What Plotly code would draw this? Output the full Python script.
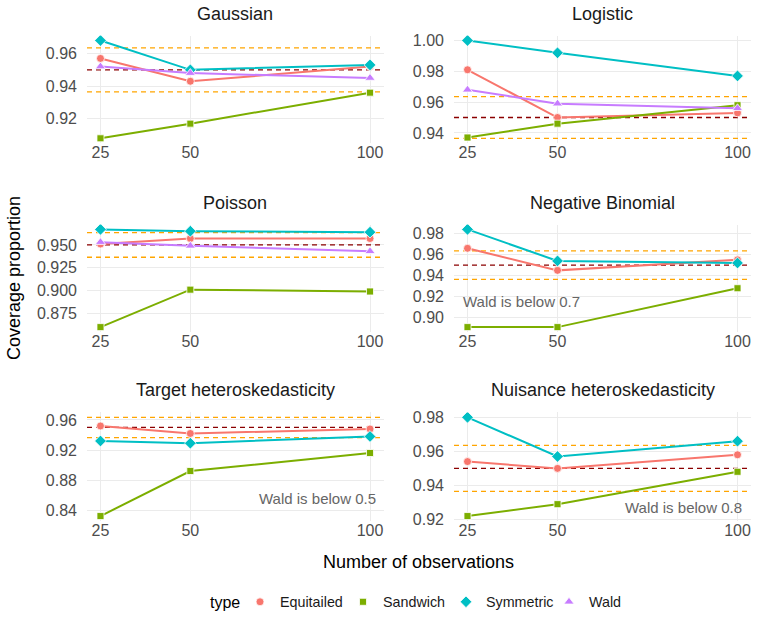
import plotly.graph_objects as go

# ---------------- data ----------------
n_obs = [25, 50, 100]
panels = ["Gaussian", "Logistic", "Poisson", "Negative Binomial",
          "Target heteroskedasticity", "Nuisance heteroskedasticity"]

equitailed = {
    "Gaussian": [0.957, 0.943, 0.952],
    "Logistic": [0.981, 0.950, 0.953],
    "Poisson": [0.951, 0.957, 0.957],
    "Negative Binomial": [0.966, 0.945, 0.955],
    "Target heteroskedasticity": [0.952, 0.942, 0.948],
    "Nuisance heteroskedasticity": [0.954, 0.950, 0.958],
}
sandwich = {
    "Gaussian": [0.908, 0.917, 0.936],
    "Logistic": [0.937, 0.946, 0.958],
    "Poisson": [0.860, 0.901, 0.899],
    "Negative Binomial": [0.891, 0.891, 0.928],
    "Target heteroskedasticity": [0.832, 0.892, 0.916],
    "Nuisance heteroskedasticity": [0.922, 0.929, 0.948],
}
symmetric = {
    "Gaussian": [0.968, 0.950, 0.953],
    "Logistic": [1.000, 0.992, 0.977],
    "Poisson": [0.967, 0.965, 0.964],
    "Negative Binomial": [0.984, 0.954, 0.952],
    "Target heteroskedasticity": [0.932, 0.929, 0.938],
    "Nuisance heteroskedasticity": [0.980, 0.957, 0.966],
}
wald = {
    "Gaussian": [0.952, 0.948, 0.945],
    "Logistic": [0.968, 0.959, 0.956],
    "Poisson": [0.953, 0.949, 0.943],
}

nominal = 0.95
band = [0.9365, 0.9635]

y_ticks = {
    "Gaussian": [0.92, 0.94, 0.96],
    "Logistic": [0.94, 0.96, 0.98, 1.00],
    "Poisson": [0.875, 0.900, 0.925, 0.950],
    "Negative Binomial": [0.90, 0.92, 0.94, 0.96, 0.98],
    "Target heteroskedasticity": [0.84, 0.88, 0.92, 0.96],
    "Nuisance heteroskedasticity": [0.92, 0.94, 0.96, 0.98],
}
y_fmt = {"Poisson": ".3f"}

notes = {
    "Negative Binomial": ("Wald is below 0.7", 40, 0.915),
    "Target heteroskedasticity": ("Wald is below 0.5", 85.3, 0.856),
    "Nuisance heteroskedasticity": ("Wald is below 0.8", 85.1, 0.927),
}

series = [
    ("Equitailed", equitailed, "#F8766D", "circle", 8),
    ("Sandwich", sandwich, "#7CAE00", "square", 7),
    ("Symmetric", symmetric, "#00BFC4", "diamond", 9),
    ("Wald", wald, "#C77CFF", "triangle-up", 9),
]

# ---------------- layout geometry ----------------
W, H = 759, 617
col_px = [(87, 383.5), (454, 751)]
row_px = [(35.6, 143.2), (224.5, 332), (412.4, 521)]
FONT = "Liberation Sans, Arial, sans-serif"

fig = go.Figure()
layout = {}
annotations = []

xr = [21.25, 103.75]

for i, p in enumerate(panels):
    k = i + 1
    r, c = divmod(i, 2)
    xd = [col_px[c][0] / W, col_px[c][1] / W]
    yd = [1 - row_px[r][1] / H, 1 - row_px[r][0] / H]
    xa = "x" if k == 1 else f"x{k}"
    ya = "y" if k == 1 else f"y{k}"

    vals = []
    for name, d, col, sym, ms in series:
        if p in d:
            vals += d[p]
    vals += band + [nominal]
    lo, hi = min(vals), max(vals)
    pad = (hi - lo) * 0.05
    yr = [lo - pad, hi + pad]

    layout[f"xaxis{k if k > 1 else ''}"] = dict(
        domain=xd, anchor=ya, range=xr, tickvals=n_obs,
        showgrid=True, gridcolor="#EBEBEB", gridwidth=1.3,
        zeroline=False, showline=False, ticks="",
        ticklabelstandoff=-2,
        tickfont=dict(family=FONT, size=16, color="#4D4D4D"),
    )
    layout[f"yaxis{k if k > 1 else ''}"] = dict(
        domain=yd, anchor=xa, range=yr, tickvals=y_ticks[p],
        tickformat=y_fmt.get(p, ".2f"),
        showgrid=True, gridcolor="#EBEBEB", gridwidth=1.3,
        zeroline=False, showline=False, ticks="",
        ticklabelstandoff=9,
        tickfont=dict(family=FONT, size=16, color="#4D4D4D"),
    )

    # reference lines (drawn first, under the series)
    for yv, colr in [(band[0], "#FFA500"), (band[1], "#FFA500"), (nominal, "#8B0000")]:
        fig.add_trace(go.Scatter(
            x=xr, y=[yv, yv], mode="lines", xaxis=xa, yaxis=ya,
            line=dict(color=colr, width=1.3, dash="5px,4px"),
            showlegend=False, hoverinfo="skip",
        ))

    for name, d, col, sym, ms in series:
        if p not in d:
            continue
        fig.add_trace(go.Scatter(
            x=n_obs, y=d[p], mode="lines+markers", xaxis=xa, yaxis=ya,
            line=dict(color=col, width=2), showlegend=False, name=name,
            marker=dict(symbol=sym, size=ms, color=col,
                        line=dict(color="white", width=0.8)),
        ))

    annotations.append(dict(
        text=p, xref="paper", yref="paper",
        x=(xd[0] + xd[1]) / 2, y=1 - (row_px[r][0] - 22) / H,
        showarrow=False, xanchor="center", yanchor="middle",
        font=dict(family=FONT, size=18, color="#1A1A1A"),
    ))

    if p in notes:
        t, nx, ny = notes[p]
        annotations.append(dict(
            text=t, xref=xa, yref=ya, x=nx, y=ny, showarrow=False,
            xanchor="center", yanchor="middle",
            font=dict(family=FONT, size=15, color="#666666"),
        ))

# legend-only marker traces
for name, d, col, sym, ms in series:
    fig.add_trace(go.Scatter(
        x=[None], y=[None], mode="markers", name=name, showlegend=True,
        marker=dict(symbol=sym, size=ms, color=col,
                    line=dict(color="white", width=0.8)),
    ))

annotations.append(dict(
    text="Number of observations", xref="paper", yref="paper",
    x=419 / W, y=1 - 562 / H, showarrow=False,
    xanchor="center", yanchor="middle",
    font=dict(family=FONT, size=18, color="#000000"),
))
annotations.append(dict(
    text="Coverage proportion", xref="paper", yref="paper",
    x=14 / W, y=1 - 278 / H, showarrow=False, textangle=-90,
    xanchor="center", yanchor="middle",
    font=dict(family=FONT, size=18, color="#000000"),
))
annotations.append(dict(
    text="type", xref="paper", yref="paper",
    x=225 / W, y=1 - 602 / H, showarrow=False,
    xanchor="center", yanchor="middle",
    font=dict(family=FONT, size=16, color="#000000"),
))

fig.update_layout(
    width=W, height=H,
    margin=dict(l=0, r=0, t=0, b=0, autoexpand=False),
    paper_bgcolor="white", plot_bgcolor="white",
    annotations=annotations,
    legend=dict(orientation="h", x=240 / W, xanchor="left",
                y=1 - 602 / H, yanchor="middle",
                font=dict(family=FONT, size=14.3, color="#1A1A1A"),
                itemwidth=30, entrywidth=58, entrywidthmode="pixels",
                bgcolor="rgba(0,0,0,0)"),
    **layout,
)

fig.write_html("out.html")
